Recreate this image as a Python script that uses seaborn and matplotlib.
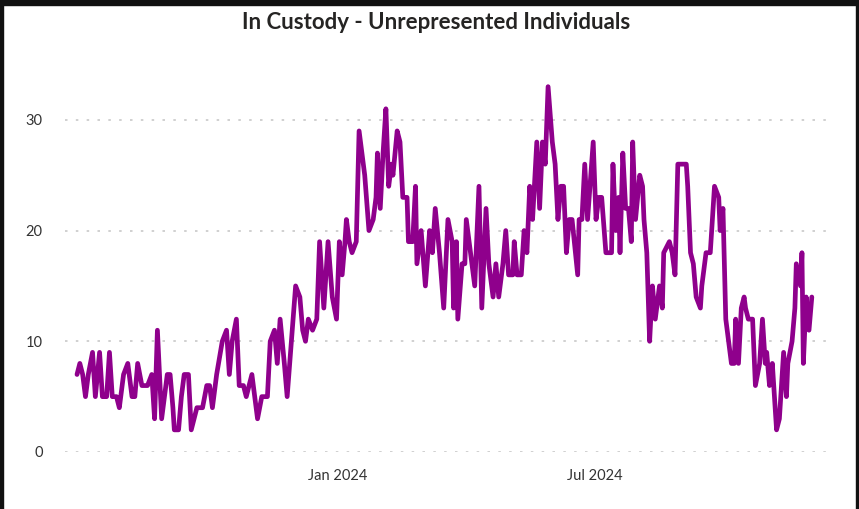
import seaborn as sns
import pandas as pd
import matplotlib.pyplot as plt
import matplotlib.dates as mdates
from matplotlib.patches import Rectangle

# days since first observation (2023-06-30) and the count on that day
start_date = "2023-06-30"
day_offsets = [
    0, 2, 4, 6, 8, 11, 13, 16, 18, 21, 23, 25, 28, 30, 33, 36, 39, 41, 43, 46,
    50, 53, 55, 57, 60, 64, 66, 68, 69, 72, 74, 76, 79, 81, 83, 85, 87, 89, 92, 94,
    96, 99, 103, 106, 108, 110, 113, 115, 118, 120, 124, 126, 128, 131, 133, 135, 137, 140, 142, 144,
    147, 149, 152, 155, 158, 160, 162, 164, 167, 170, 172, 175, 178, 181, 184, 186, 188, 190, 191, 193,
    195, 198, 200, 204, 207, 210, 212, 213, 215, 217, 219, 221, 223, 224, 227, 229, 231, 234, 235, 238,
    240, 241, 244, 247, 250, 252, 254, 257, 260, 263, 266, 267, 269, 270, 273, 275, 276, 279, 282, 285,
    287, 290, 292, 295, 297, 299, 302, 304, 306, 309, 310, 312, 315, 317, 319, 321, 323, 326, 328, 330,
    332, 334, 337, 339, 341, 343, 345, 347, 349, 351, 355, 356, 358, 360, 362, 366, 368, 370, 372, 375,
    379, 380, 382, 384, 385, 387, 389, 391, 393, 394, 396, 399, 401, 402, 404, 405, 406, 408, 410, 413,
    415, 416, 420, 422, 424, 426, 432, 433, 435, 437, 439, 442, 443, 446, 449, 450, 452, 455, 456, 458,
    460, 462, 464, 466, 467, 469, 471, 473, 474, 476, 479, 481, 484, 486, 488, 489, 491, 493, 496, 498,
    501, 503, 504, 507, 509, 510, 513, 514, 515, 517, 519, 521,
]
counts = [
    7, 8, 7, 5, 7, 9, 5, 9, 5, 5, 9, 5, 5, 4, 7, 8, 5, 5, 8, 6,
    6, 7, 3, 11, 3, 7, 7, 4, 2, 2, 5, 7, 7, 2, 3, 4, 4, 4, 6, 6,
    4, 7, 10, 11, 7, 10, 12, 6, 6, 5, 7, 5, 3, 5, 5, 5, 10, 11, 8, 12,
    8, 5, 10, 15, 14, 11, 10, 12, 11, 12, 19, 13, 19, 14, 12, 19, 16, 19, 21, 19,
    18, 19, 29, 25, 20, 21, 23, 27, 22, 27, 31, 24, 26, 25, 29, 28, 23, 23, 19, 19,
    24, 17, 20, 15, 20, 18, 22, 18, 13, 21, 19, 13, 19, 12, 17, 17, 21, 18, 15, 24,
    13, 22, 17, 14, 17, 14, 17, 20, 16, 16, 19, 16, 16, 20, 18, 24, 21, 28, 22, 28,
    26, 33, 28, 26, 21, 24, 24, 18, 21, 21, 16, 21, 21, 26, 21, 28, 21, 23, 23, 18,
    18, 26, 20, 23, 18, 27, 22, 22, 19, 28, 21, 25, 24, 21, 18, 14, 10, 15, 12, 15,
    13, 18, 19, 18, 16, 26, 26, 24, 18, 17, 14, 13, 15, 18, 18, 20, 24, 23, 20, 22,
    12, 10, 8, 8, 12, 8, 13, 14, 13, 12, 12, 6, 8, 12, 8, 9, 6, 8, 2, 3,
    9, 5, 8, 10, 13, 17, 15, 18, 8, 14, 11, 14,
]
title = "In Custody - Unrepresented Individuals"
y_ticks = [0, 10, 20, 30]
x_ticks = ["2024-01-01", "2024-07-01"]


def buildData():
    df = pd.DataFrame({"day": day_offsets, "count": counts})
    df["date"] = pd.Timestamp(start_date) + pd.to_timedelta(df["day"], unit="D")
    return df


def plotData(df):
    sns.set_style("white")
    plt.rcParams["font.family"] = ["Lato", "DejaVu Sans"]

    fig = plt.figure(figsize=(8.59, 5.09), dpi=100)
    ax = fig.add_axes([0.0757, 0.112, 0.894, 0.7395])

    sns.lineplot(data=df, x="date", y="count", ax=ax, color="#8f008c",
                 linewidth=3.4, solid_joinstyle="round", solid_capstyle="round")

    ax.set_ylim(0, 34)
    ax.set_xlim(pd.Timestamp("2023-06-21 12:00"), pd.Timestamp("2024-12-17"))
    ax.set_yticks(y_ticks)
    ax.set_xticks([pd.Timestamp(t) for t in x_ticks])
    ax.xaxis.set_major_formatter(mdates.DateFormatter("%b %Y"))
    ax.tick_params(axis="y", length=0, pad=16, labelsize=10.5, labelcolor="#333333")
    ax.tick_params(axis="x", length=0, pad=12, labelsize=10.5, labelcolor="#333333")
    ax.grid(axis="y", color="#c8c8c8", linestyle=(0, (1.5, 5)), linewidth=1.2)
    ax.grid(axis="x", visible=False)
    for s in ax.spines.values():
        s.set_visible(False)
    ax.set_xlabel("")
    ax.set_ylabel("")

    fig.text(0.508, 0.956, title, ha="center", va="center",
             fontsize=16, fontweight="bold", color="#252423")

    # dark frame round the visual
    fig.patches.append(Rectangle((0, 1 - 5 / 509), 1, 5 / 509, transform=fig.transFigure,
                                 color="#111111", zorder=10))
    fig.patches.append(Rectangle((0, 0), 3 / 859, 1, transform=fig.transFigure,
                                 color="#111111", zorder=10))
    fig.patches.append(Rectangle((1 - 3 / 859, 0), 3 / 859, 1, transform=fig.transFigure,
                                 color="#111111", zorder=10))

    fig.savefig("out.png", dpi=100)


def main():
    data = buildData()
    plotData(data)


if __name__ == "__main__":
    main()
